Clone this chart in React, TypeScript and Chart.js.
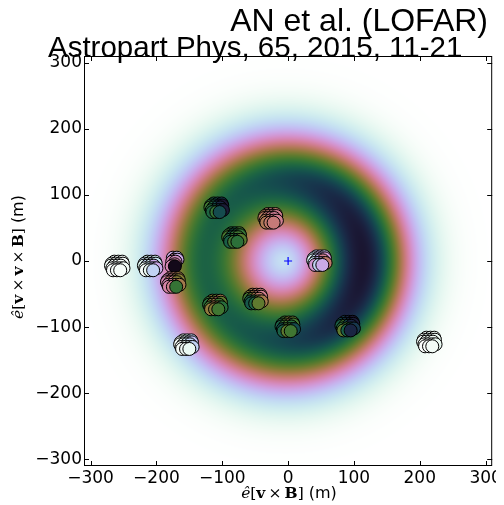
import React, { useEffect, useRef } from 'react';
import { Chart, registerables } from 'chart.js';

Chart.register(...registerables);

// ---- data ----
const titleLine1 = 'AN et al. (LOFAR)';
const titleLine2 = 'Astropart Phys, 65, 2015, 11-21';
const tickValues = [-300, -200, -100, 0, 100, 200, 300];
const axisMin = -310;
const axisMax = 310;

// station centres (m) in the shower plane
const stationX = [-260, -210, -177, -175, -109, -82, -27, 47, -50, -1, 90, -111, -155, 214];
const stationY = [-8, -8, -2, -33, 80, 35, 64, 0, -58, -100, -99, -67, -127, -123];

// antenna layout within a station (m)
const antennaDX = [-4, 2, 8, -8, -2, 4, 9, -9, -4, 1, 6, -7, -1, 5, 10, -6, 0, 5];
const antennaDY = [7, 7, 7, 4, 4, 4, 4, 1, 1, 1, 1, -3, -3, -3, -3, -6, -6, -6];

// measured (normalised) fluence per antenna, null = no antenna
const st1 = [0.02, 0.03, 0.02, 0.03, 0.02, 0.04, 0.02, 0.03, 0.02, 0.03, 0.02, 0.02, 0.03, 0.02, 0.03, 0.01, 0.02, 0.02];
const st2 = [0.1, 0.15, 0.12, 0.2, 0.1, 0.25, 0.15, 0.08, 0.2, 0.12, 0.3, 0.05, 0.15, 0.25, 0.3, 0.02, 0.05, 0.2];
const st3 = [null, 0.3, 0.28, null, null, 0.42, 0.3, null, null, 0.4, 0.38, null, null, 0.42, null, null, 0.4, 1.05];
const st4 = [0.45, 0.5, 0.55, 0.4, 0.45, 0.55, 0.6, 0.4, 0.5, 0.45, 0.6, 0.4, 0.45, 0.5, 0.55, 0.42, 0.45, 0.72];
const st5 = [0.8, 0.85, 0.9, 0.75, 0.8, 0.95, 1.0, 0.7, 0.78, 0.85, 0.95, 0.75, 0.82, 0.9, 0.98, 0.78, 0.72, 0.85];
const st6 = [0.75, 0.8, 0.7, 0.7, 0.82, 0.75, 0.72, 0.68, 0.8, 0.74, 0.7, 0.78, 0.72, 0.8, 0.66, 0.8, 0.7, 0.74];
const st7 = [0.52, 0.47, 0.5, 0.54, 0.5, 0.47, 0.45, 0.52, 0.49, 0.46, 0.44, 0.54, 0.5, 0.47, 0.45, 0.53, 0.5, 0.48];
const st8 = [0.2, 0.3, 0.25, 0.15, 0.25, 0.3, 0.35, 0.1, 0.2, 0.3, 0.45, 0.15, 0.25, 0.35, 0.5, 0.35, 0.2, 0.3];
const st9 = [0.55, 0.5, 0.48, 0.6, 0.55, 0.5, 0.45, 0.7, 0.65, 0.55, 0.5, 0.8, 0.75, 0.6, 0.55, 0.82, 0.78, 0.65];
const st10 = [0.7, 0.6, 0.65, 0.75, 0.65, 0.55, 0.7, 0.8, 0.72, 0.68, 0.75, 0.85, 0.7, 0.72, 0.85, 0.8, 0.65, 0.7];
const st11 = [0.9, 0.95, 1.0, 0.85, 0.9, 0.95, 0.98, 0.8, 0.7, 0.85, 0.95, 0.75, 0.7, 0.8, 0.9, 0.65, 0.8, 0.95];
const st12 = [0.6, 0.65, 0.55, 0.7, 0.6, 0.5, 0.65, 0.75, 0.6, 0.55, 0.7, 0.7, 0.55, 0.6, 0.75, 0.58, 0.6, 0.7];
const st13 = [0.05, 0.1, 0.2, 0.02, 0.1, 0.15, 0.25, 0.02, 0.05, 0.15, 0.2, 0.02, 0.05, 0.1, 0.2, 0.02, 0.03, 0.05];
const st14 = [0.02, 0.04, 0.03, 0.02, 0.05, 0.03, 0.04, 0.02, 0.03, 0.04, 0.03, 0.02, 0.03, 0.02, 0.05, 0.01, 0.02, 0.03];
const stationValues: (number | null)[][] = [st1, st2, st3, st4, st5, st6, st7, st8, st9, st10, st11, st12, st13, st14];

// shower core
const coreX = [0];
const coreY = [0];

// fitted ring-shaped lateral distribution (metres): centre, radius, inner/outer width, azimuthal amplitude terms
const ringCenterX = -6;
const ringCenterY = 0;
const ringRadius = 120;
const ringWidthIn = 85;
const ringWidthOut = 74;
const ringAmp = [0.86, 0.11, 0.03];

// ---- helpers ----
function cubehelix(t: number): [number, number, number] {
  const x = Math.min(1, Math.max(0, t));
  const amp = (x * (1 - x)) / 2;
  const phi = 2 * Math.PI * (0.5 / 3 - 1.5 * x);
  const c = Math.cos(phi);
  const s = Math.sin(phi);
  const r = x + amp * (-0.14861 * c + 1.78277 * s);
  const g = x + amp * (-0.29227 * c - 0.90649 * s);
  const b = x + amp * (1.97294 * c);
  const cl = (v: number) => Math.round(Math.min(1, Math.max(0, v)) * 255);
  return [cl(r), cl(g), cl(b)];
}
function valueToColor(v: number): string {
  const [r, g, b] = cubehelix(1 - 0.9 * v);
  return `rgb(${r},${g},${b})`;
}
function ldf(x: number, y: number): number {
  const dx = x - ringCenterX;
  const dy = y - ringCenterY;
  const r = Math.sqrt(dx * dx + dy * dy + 100);
  const c = dx / Math.sqrt(dx * dx + dy * dy + 1600);
  const amp = ringAmp[0] + ringAmp[1] * c + ringAmp[2] * c * c;
  const dr = r - ringRadius;
  const d = dr / (dr < 0 ? ringWidthIn : ringWidthOut);
  return amp * Math.exp(-d * d);
}
const fmtTick = (v: number | string) => {
  const n = Number(v);
  return n < 0 ? '\u2212' + Math.abs(n) : String(n);
};

const bgPlugin = {
  id: 'ldfBackground',
  beforeDatasetsDraw(chart: any) {
    const { ctx, chartArea: ca, scales } = chart;
    const xs = scales.x;
    const ys = scales.y;
    const w = Math.round(ca.right - ca.left);
    const h = Math.round(ca.bottom - ca.top);
    const off = document.createElement('canvas');
    off.width = w;
    off.height = h;
    const octx = off.getContext('2d')!;
    const img = octx.createImageData(w, h);
    const vals = new Float32Array(w * h);
    let max = 0;
    for (let j = 0; j < h; j++) {
      const yv = ys.getValueForPixel(ca.top + j + 0.5);
      for (let i = 0; i < w; i++) {
        const xv = xs.getValueForPixel(ca.left + i + 0.5);
        const p = ldf(xv, yv);
        vals[j * w + i] = p;
        if (p > max) max = p;
      }
    }
    for (let k = 0; k < w * h; k++) {
      const [r, g, b] = cubehelix(1 - 0.9 * (vals[k] / max));
      img.data[k * 4] = r;
      img.data[k * 4 + 1] = g;
      img.data[k * 4 + 2] = b;
      img.data[k * 4 + 3] = 255;
    }
    octx.putImageData(img, 0, 0);
    ctx.save();
    ctx.drawImage(off, ca.left, ca.top);
    ctx.restore();
  },
};

const framePlugin = {
  id: 'frameTicks',
  afterDatasetsDraw(chart: any) {
    const { ctx, chartArea: ca, scales } = chart;
    ctx.save();
    ctx.strokeStyle = '#000';
    ctx.lineWidth = 1;
    ctx.strokeRect(ca.left + 0.5, ca.top + 0.5, ca.right - ca.left - 1, ca.bottom - ca.top - 1);
    const len = 5;
    ctx.beginPath();
    for (const v of tickValues) {
      const px = Math.round(scales.x.getPixelForValue(v)) + 0.5;
      ctx.moveTo(px, ca.bottom);
      ctx.lineTo(px, ca.bottom - len);
      ctx.moveTo(px, ca.top);
      ctx.lineTo(px, ca.top + len);
      const py = Math.round(scales.y.getPixelForValue(v)) + 0.5;
      ctx.moveTo(ca.left, py);
      ctx.lineTo(ca.left + len, py);
      ctx.moveTo(ca.right, py);
      ctx.lineTo(ca.right - len, py);
    }
    ctx.stroke();
    ctx.restore();
  },
};

type Seg = { t: string; f: string };
function drawSegs(ctx: CanvasRenderingContext2D, segs: Seg[], cx: number, cy: number, rot: number) {
  ctx.save();
  ctx.translate(cx, cy);
  ctx.rotate(rot);
  let total = 0;
  const widths = segs.map((s) => {
    ctx.font = s.f;
    const w = ctx.measureText(s.t).width;
    total += w;
    return w;
  });
  let x = -total / 2;
  ctx.fillStyle = '#000';
  ctx.textBaseline = 'middle';
  ctx.textAlign = 'left';
  segs.forEach((s, i) => {
    ctx.font = s.f;
    ctx.fillText(s.t, x, 0);
    x += widths[i];
  });
  ctx.restore();
}

const textPlugin = {
  id: 'texts',
  afterDraw(chart: any) {
    const { ctx } = chart;
    ctx.save();
    ctx.fillStyle = '#000';
    ctx.textBaseline = 'alphabetic';
    ctx.font = '32px "Liberation Sans", Arial, sans-serif';
    ctx.textAlign = 'right';
    ctx.fillText(titleLine1, 480, 23);
    ctx.font = '29.5px "Liberation Sans", Arial, sans-serif';
    ctx.textAlign = 'left';
    ctx.fillText(titleLine2, 40, 48.5);
    ctx.restore();

    const ser = '15.5px "DejaVu Serif", serif';
    const serI = 'italic 15.5px "DejaVu Serif", serif';
    const serB = 'bold 15.5px "DejaVu Serif", serif';
    const sans = '16px "DejaVu Sans", sans-serif';
    const times = '\u2009\u00d7\u2009';
    const xl: Seg[] = [
      { t: '\u00ea', f: serI },
      { t: '[', f: ser },
      { t: 'v', f: serB },
      { t: times, f: ser },
      { t: 'B', f: serB },
      { t: ']', f: ser },
      { t: ' (m)', f: sans },
    ];
    const yl: Seg[] = [
      { t: '\u00ea', f: serI },
      { t: '[', f: ser },
      { t: 'v', f: serB },
      { t: times, f: ser },
      { t: 'v', f: serB },
      { t: times, f: ser },
      { t: 'B', f: serB },
      { t: ']', f: ser },
      { t: ' (m)', f: sans },
    ];
    drawSegs(ctx, xl, 281, 486, 0);
    drawSegs(ctx, yl, 11, 249, -Math.PI / 2);
  },
};

export default function App() {
  const ref = useRef<HTMLCanvasElement>(null);
  useEffect(() => {
    if (!ref.current) return;
    const pts: { x: number; y: number }[] = [];
    const cols: string[] = [];
    stationValues.forEach((vals, k) => {
      vals.forEach((v, i) => {
        if (v === null) return;
        pts.push({ x: stationX[k] + antennaDX[i], y: stationY[k] + antennaDY[i] });
        cols.push(valueToColor(v));
      });
    });
    const core = coreX.map((x, i) => ({ x, y: coreY[i] }));
    const tickFont = { family: '"DejaVu Sans", sans-serif', size: 17 };
    const chart = new Chart(ref.current, {
      type: 'scatter',
      data: {
        datasets: [
          {
            data: core,
            pointStyle: 'cross',
            pointRadius: 4,
            borderColor: '#0000ff',
            pointBorderColor: '#0000ff',
            pointBorderWidth: 1.2,
          },
          {
            data: pts,
            pointRadius: 6.5,
            pointBackgroundColor: cols,
            pointBorderColor: '#000',
            pointBorderWidth: 1,
          },
        ],
      },
      options: {
        animation: false,
        responsive: false,
        maintainAspectRatio: false,
        layout: { padding: { top: 48, right: 10, left: 0, bottom: 0 } },
        plugins: { legend: { display: false }, tooltip: { enabled: false }, title: { display: false } },
        scales: {
          x: {
            type: 'linear',
            min: axisMin,
            max: axisMax,
            grid: { display: false, drawTicks: false },
            border: { display: false },
            ticks: { font: tickFont, color: '#000', padding: 2, maxRotation: 0, autoSkip: false, callback: fmtTick },
            afterBuildTicks: (s: any) => {
              s.ticks = tickValues.map((v) => ({ value: v }));
            },
            afterFit: (s: any) => {
              s.height = 38;
            },
          },
          y: {
            type: 'linear',
            min: axisMin,
            max: axisMax,
            grid: { display: false, drawTicks: false },
            border: { display: false },
            ticks: { font: tickFont, color: '#000', padding: 2, autoSkip: false, callback: fmtTick },
            afterBuildTicks: (s: any) => {
              s.ticks = tickValues.map((v) => ({ value: v }));
            },
            afterFit: (s: any) => {
              s.width = 76;
            },
          },
        },
      },
      plugins: [bgPlugin, framePlugin, textPlugin],
    } as any);
    return () => chart.destroy();
  }, []);
  return (
    <div style={{ width: 496, height: 496 }}>
      <canvas ref={ref} width={496} height={496} style={{ width: 496, height: 496, display: 'block' }} />
    </div>
  );
}
